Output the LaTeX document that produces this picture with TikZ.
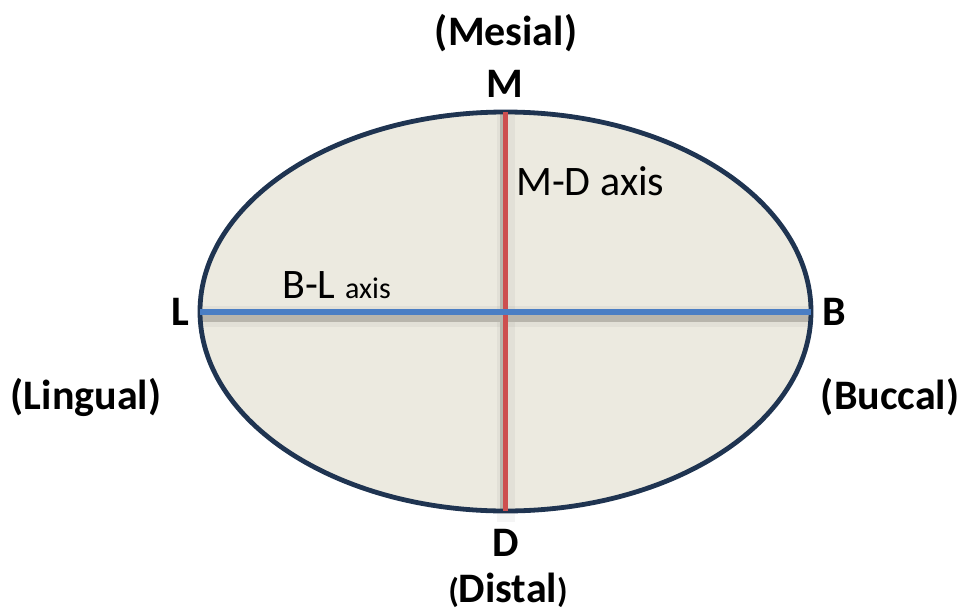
\documentclass[tikz,border=0pt]{standalone}
\usepackage{fontspec}
\setmainfont{Carlito}
\definecolor{navy}{HTML}{1F3451}
\definecolor{fillc}{HTML}{ECEAE0}
\definecolor{redax}{HTML}{CD4F4F}
\definecolor{blueax}{HTML}{4A7EC4}
\definecolor{shad}{HTML}{B8B5AC}
\tikzset{
  lbl/.style={font=\bfseries\fontsize{42}{48}\selectfont, inner sep=0pt},
  axlbl/.style={font=\fontsize{42}{48}\selectfont, inner sep=0pt, anchor=base west},
}
\begin{document}
\begin{tikzpicture}[x=1pt,y=-1pt]
\useasboundingbox (0,0) rectangle (964,611);
\coordinate (C) at (505.5,311.5);
\fill[fillc] (C) ellipse [x radius=305.5, y radius=199.5];
% soft shadow bands
\fill[black,opacity=0.04] (497,112) rectangle (515,522);
\fill[black,opacity=0.04] (200,306) rectangle (811,327);
% axis end points
\coordinate (Vt) at (505.5,112);
\coordinate (Vb) at (505.5,511);
\coordinate (Hl) at (200,312);
\coordinate (Hr) at (811,312);
% shadows
\draw[shad,line width=4pt] ([xshift=-4pt]Vt) -- ([xshift=-4pt]Vb);
\draw[shad,line width=7pt] ([yshift=-6.5pt]Hl) -- ([yshift=-6.5pt]Hr);
\draw[navy,line width=4.8pt] (C) ellipse [x radius=305.5, y radius=199.5];
\draw[redax,line width=5pt] (Vt) -- (Vb);
\draw[blueax,line width=5.5pt] (Hl) -- (Hr);
\node[lbl] (mes) at (506,33) {(Mesial)};
\node[lbl] (M) at (505,84) {M};
\node[lbl] (L) at (180,312) {L};
\node[lbl] (B) at (834,312) {B};
\node[lbl] (lin) at (86,397) {(Lingual)};
\node[lbl] (buc) at (890,397) {(Buccal)};
\node[lbl] (D) at (506,543) {D};
\node[lbl] (dis) at (508,590) {{\fontsize{34}{36}\selectfont(}Distal{\fontsize{34}{36}\selectfont)}};
\node[axlbl] (md) at (516,195) {M-D axis};
\node[axlbl] (bl) at (282,298) {B-L {\fontsize{30}{36}\selectfont axis}};
\end{tikzpicture}
\end{document}
